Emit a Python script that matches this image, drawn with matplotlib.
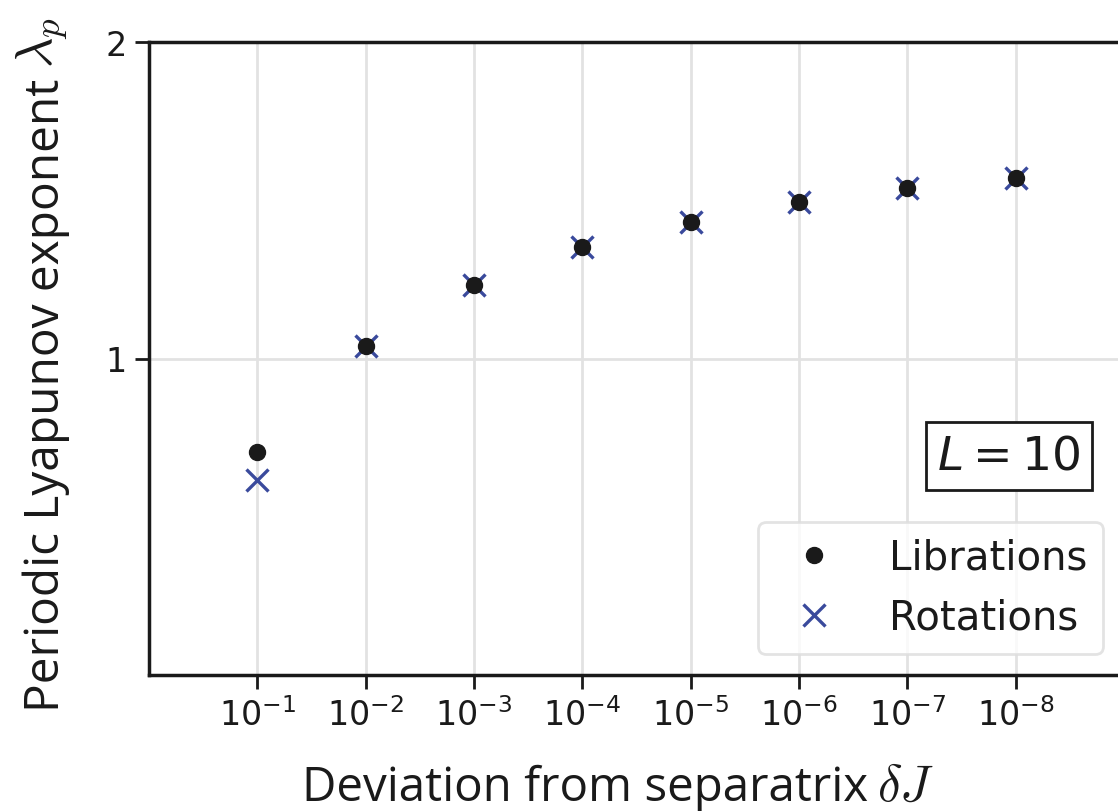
import numpy as np
import matplotlib
matplotlib.use("Agg")
import matplotlib.pyplot as plt

# deviation from separatrix, as exponents of 10 (10^-1 ... 10^-8)
exponents = [1, 2, 3, 4, 5, 6, 7, 8]
tick_labels = [r"$10^{-%d}$" % e for e in exponents]

librations = [0.705, 1.041, 1.231, 1.351, 1.430, 1.494, 1.538, 1.570]
rotations = [0.617, 1.041, 1.231, 1.351, 1.430, 1.494, 1.538, 1.570]

dark = "#1a1a1a"
blue = "#3a4a9c"

plt.rcParams["font.family"] = ["DejaVu Sans"]
plt.rcParams["axes.edgecolor"] = dark
plt.rcParams["text.color"] = dark

W, H = 1118, 812
fig = plt.figure(figsize=(W / 100, H / 100), dpi=100)
ax = fig.add_axes([149 / W, 1 - 676 / H, (1124 - 149) / W, (676 - 43) / H])

x = np.array(exponents)
ax.plot(x, librations, "o", color=dark, ms=11.5, label="Librations", zorder=3)
ax.plot(x, rotations, "x", color=blue, ms=16, mew=2.4, label="Rotations", zorder=2)

ax.set_xlim(0, 9)
ax.set_ylim(0, 2)
ax.set_xticks(x)
ax.set_xticklabels(tick_labels)
ax.set_yticks([1, 2])
ax.tick_params(labelsize=24, length=10, width=2, color=dark, labelcolor=dark, pad=6)
ax.grid(True, color="#e2e2e2", lw=2, zorder=0)
ax.set_axisbelow(True)
for s in ax.spines.values():
    s.set_linewidth(2.5)
    s.set_color(dark)

# axis labels: text part and math part
fig.text(868 / W, 1 - 801 / H, "Deviation from separatrix", fontsize=34.2,
         fontfamily="Open Sans", ha="right", va="baseline")
fig.text(877 / W, 1 - 801 / H, r"$\delta J$", fontsize=37, math_fontfamily="cm",
         ha="left", va="baseline")
fig.text(59 / W, 1 - 712 / H, "Periodic Lyapunov exponent", fontsize=34.5,
         fontfamily="Open Sans", rotation=90, rotation_mode="anchor",
         ha="left", va="baseline")
fig.text(52 / W, 1 - 68 / H, r"$\lambda_p$", fontsize=38, math_fontfamily="cm",
         rotation=90, rotation_mode="anchor", ha="left", va="baseline")

fig.text(1009 / W, 1 - 457 / H, r"$L = 10$", fontsize=34, ha="center", va="center",
         bbox=dict(boxstyle="square,pad=0.25", fc="white", ec=dark, lw=2))

leg = ax.legend(loc="lower right", bbox_to_anchor=((1103 - 149) / (1124 - 149), (676 - 655) / (676 - 43)),
                fontsize=29, frameon=True, fancybox=True, edgecolor="#dddddd",
                handlelength=2.0, handletextpad=0.85, borderpad=0.4, labelspacing=0.5,
                borderaxespad=0)
leg.get_frame().set_linewidth(2)

fig.savefig("out.png", dpi=100)
